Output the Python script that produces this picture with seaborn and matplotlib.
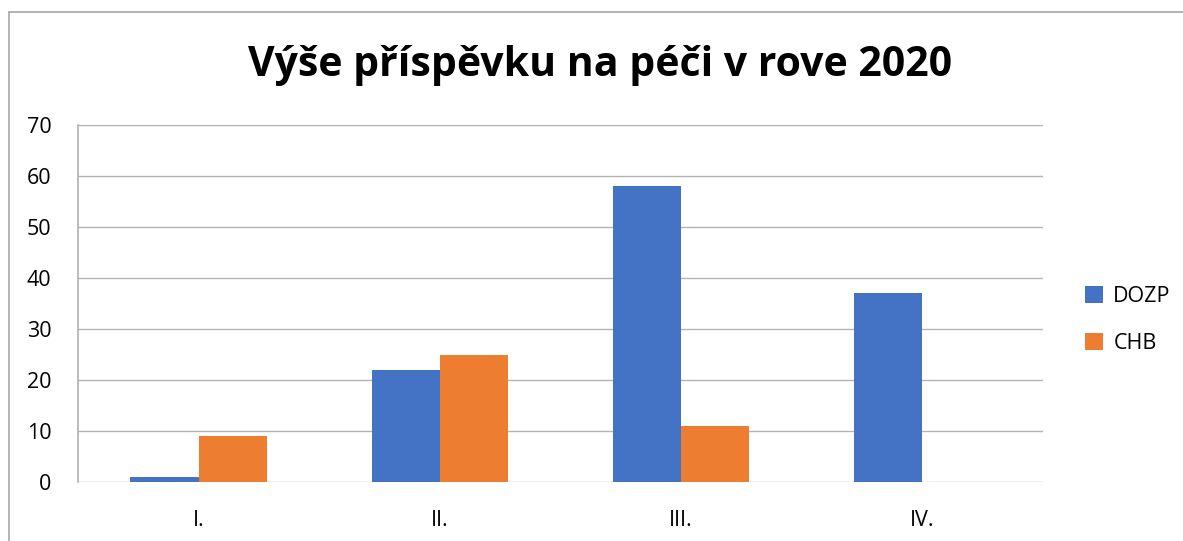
import pandas as pd
import seaborn as sns
import matplotlib.pyplot as plt
from matplotlib.lines import Line2D

categories = ["I.", "II.", "III.", "IV."]
dozp = [1, 22, 58, 37]
chb = [9, 25, 11, 0]
series_names = ["DOZP", "CHB"]
y_ticks = [0, 10, 20, 30, 40, 50, 60, 70]

df = pd.DataFrame({"kategorie": categories * 2,
                   "pocet": dozp + chb,
                   "zarizeni": [series_names[0]] * 4 + [series_names[1]] * 4})

sns.set_theme(style="white")
plt.rcParams["font.family"] = ["Open Sans", "DejaVu Sans"]
plt.rcParams["text.color"] = "black"

fig = plt.figure(figsize=(11.83, 5.41), dpi=100)
ax = fig.add_axes([78 / 1183, 1 - 482 / 541, (1043 - 78) / 1183, (482 - 125) / 541])

sns.barplot(data=df, x="kategorie", y="pocet", hue="zarizeni",
            palette=["#4472C4", "#ED7D31"], width=0.565, saturation=1,
            linewidth=0, ax=ax, zorder=3)

ax.set_ylim(0, 70)
ax.set_yticks(y_ticks)
ax.set_xlim(-0.5, 3.5)
ax.yaxis.grid(True, color="#b3b3b3", linewidth=1, zorder=0)
ax.set_axisbelow(True)
for s in ["top", "right", "bottom"]:
    ax.spines[s].set_visible(False)
ax.spines["left"].set_color("#b3b3b3")
ax.tick_params(axis="both", labelsize=15.5, length=0, colors="black")
ax.tick_params(axis="x", pad=20)
ax.tick_params(axis="y", pad=19)
ax.set_xlabel("")
ax.set_ylabel("")

ax.legend(loc="center left", bbox_to_anchor=(1066 / 1183, 1 - 320 / 541),
          bbox_transform=fig.transFigure, frameon=False, fontsize=15.5,
          handlelength=0.8, handleheight=0.8, handletextpad=0.5, labelspacing=1.2)

fig.text(600 / 1183, 1 - 65 / 541, "Výše příspěvku na péči v rove 2020",
         ha="center", va="center", fontsize=29.5, fontweight="bold", color="black")

# chart border (partly cropped)
fig.add_artist(Line2D([9 / 1183, 9 / 1183], [0, 1 - 12 / 541], transform=fig.transFigure,
                      color="#a6a6a6", linewidth=1.2))
fig.add_artist(Line2D([9 / 1183, 1], [1 - 12 / 541, 1 - 12 / 541], transform=fig.transFigure,
                      color="#a6a6a6", linewidth=1.2))

fig.savefig("out.png", dpi=100)
